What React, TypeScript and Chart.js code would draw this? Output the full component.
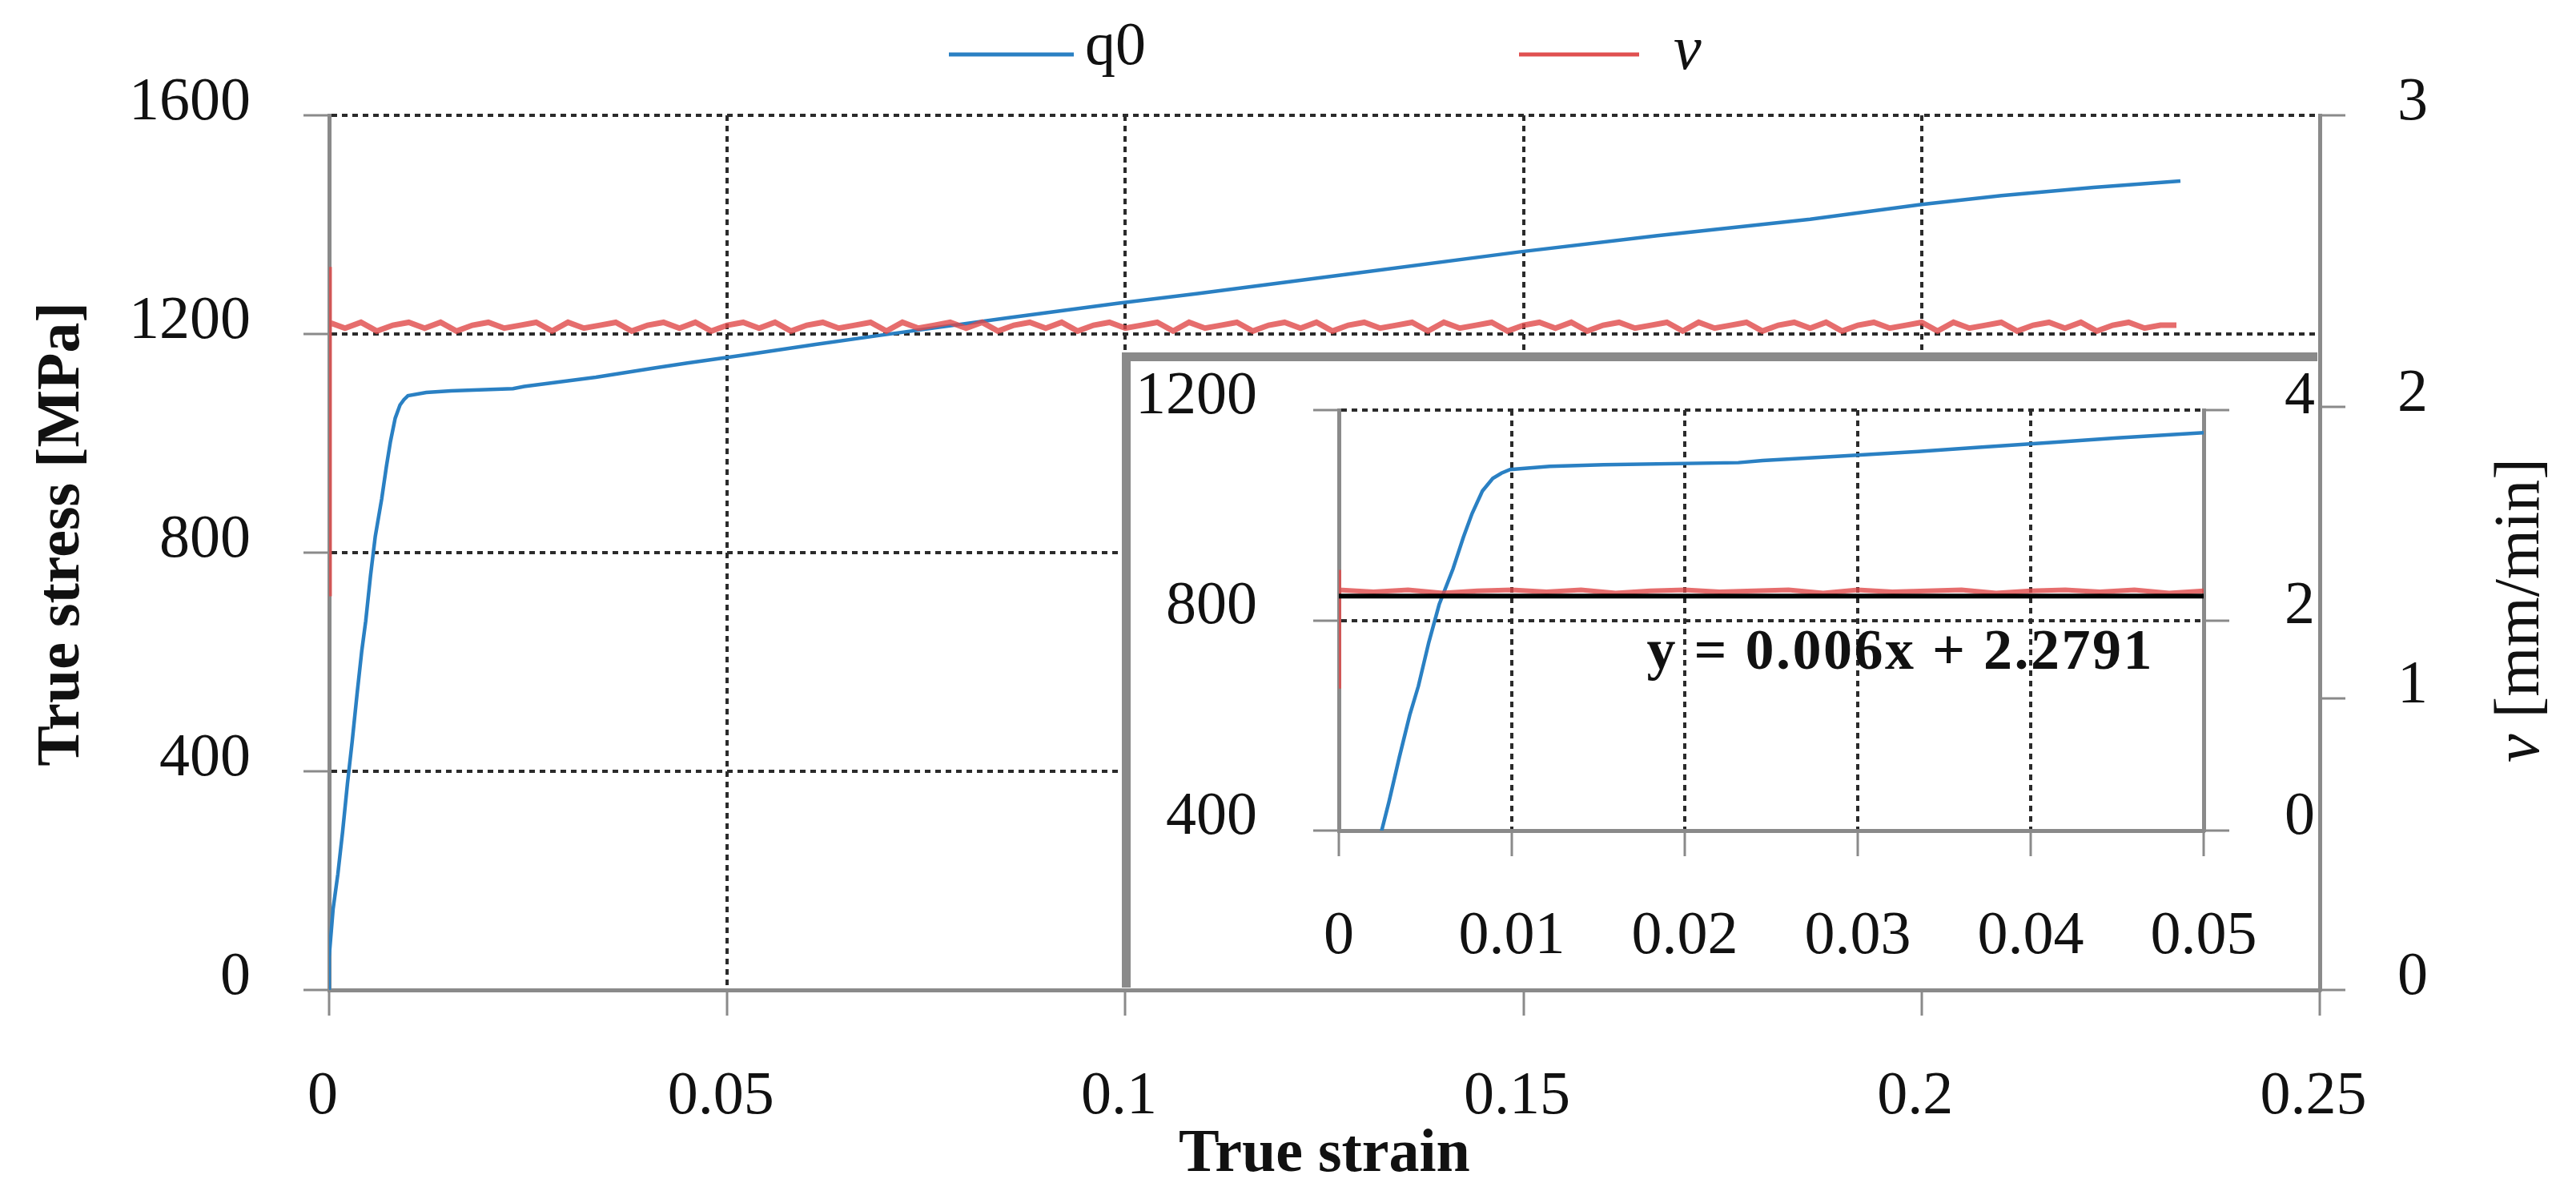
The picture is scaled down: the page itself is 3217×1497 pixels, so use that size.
import React, { useEffect, useRef } from 'react';
import { Chart, registerables } from 'chart.js';

Chart.register(...registerables);

// q0: true stress [MPa] against true strain
const q0Strain = [0, 0, 0.0005, 0.0011, 0.0017, 0.0023, 0.0029, 0.0035, 0.0041, 0.0046, 0.0052, 0.0058, 0.0066, 0.0072, 0.0077, 0.0083, 0.0089, 0.0094, 0.0099, 0.0122, 0.0153, 0.0231, 0.0245, 0.0288, 0.0335, 0.037, 0.041, 0.045, 0.05, 0.0528, 0.0611, 0.0694, 0.0855, 0.099, 0.1091, 0.1282, 0.1494, 0.1668, 0.186, 0.2, 0.21, 0.2216, 0.2325];
const q0Stress = [0, 60, 148, 212, 290, 377, 455, 540, 620, 675, 758, 830, 898, 958, 1003, 1046, 1070, 1080, 1087, 1093, 1096, 1100, 1104, 1112, 1121, 1129, 1138, 1147, 1157, 1163, 1181, 1198, 1230, 1256, 1274, 1310, 1350, 1380, 1410, 1437, 1453, 1468, 1480];

// v: crosshead speed [mm/min], start-up spike then sampled every 0.002 strain
const vSpikeStrain = [0, 0];
const vSpikeValues = [1.35, 2.48];
const vStep = 0.002;
const vBand = [
  2.29, 2.27, 2.29, 2.26, 2.28, 2.29, 2.27, 2.29, 2.26, 2.28, 2.29, 2.27, 2.28, 2.29, 2.26, 2.29, 2.27, 2.28, 2.29, 2.26,
  2.28, 2.29, 2.27, 2.29, 2.26, 2.28, 2.29, 2.27, 2.29, 2.26, 2.28, 2.29, 2.27, 2.28, 2.29, 2.26, 2.29, 2.27, 2.28, 2.29,
  2.27, 2.29, 2.26, 2.28, 2.29, 2.27, 2.29, 2.26, 2.28, 2.29, 2.27, 2.28, 2.29, 2.26, 2.29, 2.27, 2.28, 2.29, 2.26, 2.28,
  2.29, 2.27, 2.29, 2.26, 2.28, 2.29, 2.27, 2.28, 2.29, 2.26, 2.29, 2.27, 2.28, 2.29, 2.26, 2.28, 2.29, 2.27, 2.29, 2.26,
  2.28, 2.29, 2.27, 2.28, 2.29, 2.26, 2.29, 2.27, 2.28, 2.29, 2.26, 2.28, 2.29, 2.27, 2.29, 2.26, 2.28, 2.29, 2.27, 2.28,
  2.29, 2.26, 2.29, 2.27, 2.28, 2.29, 2.26, 2.28, 2.29, 2.27, 2.29, 2.26, 2.28, 2.29, 2.27, 2.28, 2.28,
];

// linear fit shown in the inset
const trendStrain = [0, 0.05];
const trendValues = [2.23, 2.2303];
const trendLabel = 'y = 0.006x + 2.2791';

// main axes
const xTicks = [0, 0.05, 0.1, 0.15, 0.2, 0.25];
const xTickLabels = ['0', '0.05', '0.1', '0.15', '0.2', '0.25'];
const yTicks = [0, 400, 800, 1200, 1600];
const yTickLabels = ['0', '400', '800', '1200', '1600'];
const vTicks = [0, 1, 2, 3];
const vTickLabels = ['0', '1', '2', '3'];

// inset axes
const insetXTicks = [0, 0.01, 0.02, 0.03, 0.04, 0.05];
const insetXTickLabels = ['0', '0.01', '0.02', '0.03', '0.04', '0.05'];
const insetYTicks = [400, 800, 1200];
const insetYTickLabels = ['400', '800', '1200'];
const insetVTicks = [0, 2, 4];
const insetVTickLabels = ['0', '2', '4'];

const FONT = '"Liberation Serif", "Times New Roman", serif';
const BLUE = '#2a80c3';
const RED = 'rgba(224, 72, 72, 0.8)';
const AXIS = '#8a8a8a';
const GRID = '#2b2b2b';
const TEXT = '#111';

const q0Points = q0Strain.map((x, i) => ({ x, y: q0Stress[i] }));
const vPoints = [
  ...vSpikeStrain.map((x, i) => ({ x, y: vSpikeValues[i] })),
  ...vBand.map((y, i) => ({ x: i * vStep, y })),
];
const trendPoints = trendStrain.map((x, i) => ({ x, y: trendValues[i] }));

const tickFont = { family: FONT, size: 76 };

function setTicks(values: number[]) {
  return (scale: any) => {
    scale.ticks = values.map((value) => ({ value }));
  };
}

// fixed axis width, without the extra top/bottom room Chart.js keeps for labels
function fixWidth(w: number) {
  return (s: any) => {
    s.width = w;
    s.paddingTop = 0;
    s.paddingBottom = 0;
  };
}

function gridOpts(showOnArea = true) {
  return {
    display: true,
    drawOnChartArea: showOnArea,
    color: GRID,
    lineWidth: 4,
    drawTicks: true,
    tickLength: 32,
    tickColor: AXIS,
    tickWidth: 3,
  };
}

const borderOpts = { display: true, color: AXIS, width: 5, dash: [7, 6] };

const mainDecor = {
  id: 'mainDecor',
  afterDraw(chart: any) {
    const ctx = chart.ctx;
    ctx.save();
    // legend
    ctx.lineWidth = 5;
    ctx.strokeStyle = BLUE;
    ctx.beginPath();
    ctx.moveTo(1185, 68);
    ctx.lineTo(1341, 68);
    ctx.stroke();
    ctx.strokeStyle = '#e05050';
    ctx.beginPath();
    ctx.moveTo(1897, 68);
    ctx.lineTo(2047, 68);
    ctx.stroke();
    ctx.fillStyle = TEXT;
    ctx.textBaseline = 'alphabetic';
    ctx.textAlign = 'left';
    ctx.font = `76px ${FONT}`;
    ctx.fillText('q0', 1355, 80);
    ctx.font = `italic 78px ${FONT}`;
    ctx.fillText('v', 2090, 86);

    // left axis title
    ctx.save();
    ctx.translate(78, 667);
    ctx.rotate(-Math.PI / 2);
    ctx.textAlign = 'center';
    ctx.textBaseline = 'middle';
    ctx.font = `bold 76px ${FONT}`;
    ctx.fillText('True stress [MPa]', 0, 0);
    ctx.restore();

    // right axis title
    ctx.save();
    ctx.translate(3149, 762);
    ctx.rotate(-Math.PI / 2);
    ctx.textBaseline = 'middle';
    ctx.textAlign = 'left';
    ctx.font = `italic 80px ${FONT}`;
    const vw = ctx.measureText('v').width;
    ctx.font = `80px ${FONT}`;
    const rest = ' [mm/min]';
    const rw = ctx.measureText(rest).width;
    const start = -(vw + rw) / 2;
    ctx.font = `italic 80px ${FONT}`;
    ctx.fillText('v', start, 0);
    ctx.font = `80px ${FONT}`;
    ctx.fillText(rest, start + vw, 0);
    ctx.restore();
    ctx.restore();
  },
};

const insetDecor = {
  id: 'insetDecor',
  afterDraw(chart: any) {
    const ctx = chart.ctx;
    const x = chart.scales.x.getPixelForValue(0.0178);
    const y = chart.scales.y.getPixelForValue(708);
    ctx.save();
    ctx.fillStyle = TEXT;
    ctx.font = `bold 72px ${FONT}`;
    (ctx as any).letterSpacing = '2.5px';
    ctx.textBaseline = 'alphabetic';
    ctx.textAlign = 'left';
    ctx.fillText(trendLabel, x, y);
    ctx.restore();
  },
};

const App = () => {
  const mainRef = useRef<HTMLCanvasElement>(null);
  const insetRef = useRef<HTMLCanvasElement>(null);

  useEffect(() => {
    if (!mainRef.current || !insetRef.current) return;

    const main = new Chart(mainRef.current, {
      type: 'line',
      data: {
        datasets: [
          {
            label: 'q0',
            data: q0Points,
            yAxisID: 'y',
            borderColor: BLUE,
            borderWidth: 4.5,
            pointRadius: 0,
            tension: 0,
            order: 2,
          },
          {
            label: 'v',
            data: vPoints,
            yAxisID: 'y2',
            borderColor: RED,
            borderWidth: 7,
            pointRadius: 0,
            tension: 0,
            order: 1,
          },
        ],
      },
      options: {
        responsive: false,
        devicePixelRatio: 1,
        animation: false,
        layout: { padding: { top: 144, left: 0, right: 0, bottom: 0 } },
        plugins: { legend: { display: false }, tooltip: { enabled: false } },
        scales: {
          x: {
            type: 'linear',
            position: 'bottom',
            min: 0,
            max: 0.25,
            afterBuildTicks: setTicks(xTicks),
            afterFit: (s: any) => { s.height = 261; },
            ticks: {
              callback: (_v: any, i: number) => xTickLabels[i],
              font: tickFont,
              color: TEXT,
              padding: 56,
              labelOffset: -8,
              maxRotation: 0,
              autoSkip: false,
            },
            grid: gridOpts(),
            border: borderOpts,
            title: {
              display: true,
              text: 'True strain',
              color: TEXT,
              font: { family: FONT, size: 76, weight: 'bold' },
              padding: { top: 0, bottom: 9 },
            },
          },
          y: {
            type: 'linear',
            position: 'left',
            min: 0,
            max: 1600,
            afterBuildTicks: setTicks(yTicks),
            afterFit: fixWidth(411),
            ticks: {
              callback: (_v: any, i: number) => yTickLabels[i],
              font: tickFont,
              color: TEXT,
              padding: 66,
              labelOffset: -15,
            },
            grid: gridOpts(),
            border: borderOpts,
          },
          y2: {
            type: 'linear',
            position: 'right',
            min: 0,
            max: 3,
            afterBuildTicks: setTicks(vTicks),
            afterFit: fixWidth(320),
            ticks: {
              callback: (_v: any, i: number) => vTickLabels[i],
              font: tickFont,
              color: TEXT,
              padding: 65,
              labelOffset: -15,
            },
            grid: gridOpts(false),
            border: borderOpts,
          },
        },
      },
      plugins: [mainDecor],
    } as any);

    const inset = new Chart(insetRef.current, {
      type: 'line',
      data: {
        datasets: [
          {
            label: 'q0',
            data: q0Points,
            yAxisID: 'y',
            borderColor: BLUE,
            borderWidth: 4.5,
            pointRadius: 0,
            tension: 0,
            order: 3,
          },
          {
            label: 'v',
            data: vPoints,
            yAxisID: 'y2',
            borderColor: RED,
            borderWidth: 6,
            pointRadius: 0,
            tension: 0,
            order: 2,
          },
          {
            label: 'fit',
            data: trendPoints,
            yAxisID: 'y2',
            borderColor: '#000',
            borderWidth: 6,
            pointRadius: 0,
            tension: 0,
            order: 1,
          },
        ],
      },
      options: {
        responsive: false,
        devicePixelRatio: 1,
        animation: false,
        layout: { padding: { top: 61, left: 0, right: 0, bottom: 0 } },
        plugins: { legend: { display: false }, tooltip: { enabled: false } },
        scales: {
          x: {
            type: 'linear',
            position: 'bottom',
            min: 0,
            max: 0.05,
            afterBuildTicks: setTicks(insetXTicks),
            afterFit: (s: any) => { s.height = 196; },
            ticks: {
              callback: (_v: any, i: number) => insetXTickLabels[i],
              font: tickFont,
              color: TEXT,
              padding: 55,
              maxRotation: 0,
              autoSkip: false,
            },
            grid: gridOpts(),
            border: borderOpts,
          },
          y: {
            type: 'linear',
            position: 'left',
            min: 400,
            max: 1200,
            afterBuildTicks: setTicks(insetYTicks),
            afterFit: fixWidth(260),
            ticks: {
              callback: (_v: any, i: number) => insetYTickLabels[i],
              font: tickFont,
              color: TEXT,
              padding: 70,
              labelOffset: -16,
            },
            grid: gridOpts(),
            border: borderOpts,
          },
          y2: {
            type: 'linear',
            position: 'right',
            min: 0,
            max: 4,
            afterBuildTicks: setTicks(insetVTicks),
            afterFit: fixWidth(142),
            ticks: {
              callback: (_v: any, i: number) => insetVTickLabels[i],
              font: tickFont,
              color: TEXT,
              padding: 69,
              labelOffset: -16,
            },
            grid: gridOpts(false),
            border: borderOpts,
          },
        },
      },
      plugins: [insetDecor],
    } as any);

    return () => {
      main.destroy();
      inset.destroy();
    };
  }, []);

  return (
    <div style={{ position: 'absolute', left: 0, top: 0, width: 3217, height: 1497, background: '#fff', overflow: 'hidden' }}>
      <canvas ref={mainRef} width={3217} height={1497} style={{ position: 'absolute', left: 0, top: 0 }} />
      <div
        style={{
          position: 'absolute',
          left: 1401,
          top: 440,
          width: 1493,
          height: 793,
          boxSizing: 'border-box',
          borderLeft: `11px solid ${AXIS}`,
          borderTop: `11px solid ${AXIS}`,
          background: '#fff',
        }}
      >
        <canvas ref={insetRef} width={1482} height={782} style={{ display: 'block' }} />
      </div>
    </div>
  );
};

export default App;
